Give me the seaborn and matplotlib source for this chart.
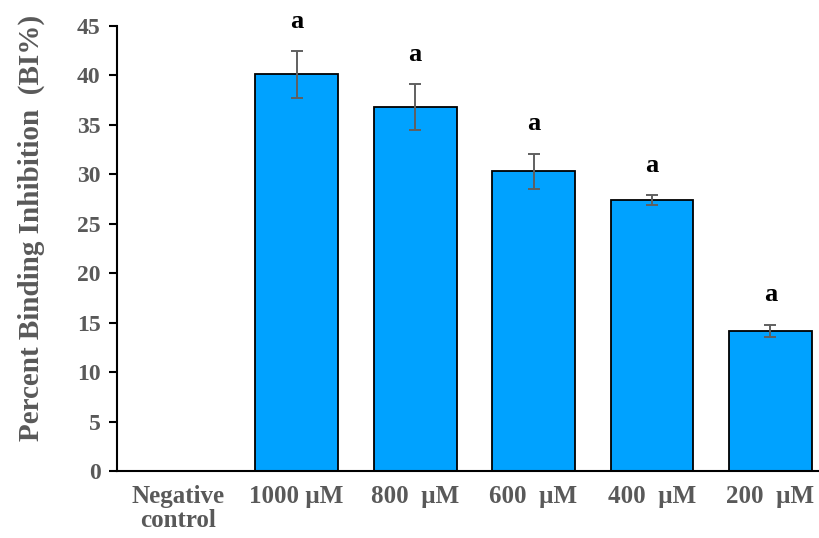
import matplotlib
matplotlib.use("Agg")
import matplotlib.pyplot as plt
import numpy as np
import pandas as pd
import seaborn as sns

categories = ["Negative\ncontrol", "1000 \u00b5M", "800  \u00b5M", "600  \u00b5M", "400  \u00b5M", "200  \u00b5M"]
bi_values = [0.0, 40.1, 36.8, 30.3, 27.4, 14.2]
bi_errors = [0.0, 2.4, 2.3, 1.8, 0.5, 0.6]
letters = ["", "a", "a", "a", "a", "a"]

df = pd.DataFrame({"group": categories, "bi": bi_values})

sns.set_style("white")
plt.rcParams["font.family"] = ["Liberation Serif", "DejaVu Serif"]
plt.rcParams["font.weight"] = "bold"

grey = "#595959"
fig = plt.figure(figsize=(8.19, 5.38), dpi=100)
ax = fig.add_axes([0.143, 0.1245, 0.857, 0.8272])

sns.barplot(data=df, x="group", y="bi", color="#00A2FF", saturation=1,
            edgecolor="black", linewidth=1.3, width=0.7, errorbar=None, ax=ax)

pos = np.arange(len(categories))
has_err = np.array(bi_errors) > 0
ax.errorbar(pos[has_err], np.array(bi_values)[has_err], yerr=np.array(bi_errors)[has_err],
            fmt="none", ecolor="#606060", elinewidth=1.4, capsize=4, capthick=1.4)

# significance letters
for i, (v, e, t) in enumerate(zip(bi_values, bi_errors, letters)):
    if t:
        ax.text(i, v + e + 3.0, t, ha="center", va="center", fontsize=19,
                fontweight="bold", color="black")

ax.set_ylim(0, 45)
ax.set_yticks(np.arange(0, 46, 5))
ax.set_xlim(-0.515, 5.41)

ax.set_xlabel("")
ax.set_ylabel("Percent Binding Inhibition  (BI%)", fontsize=21, fontweight="bold",
              color=grey)
ax.yaxis.set_label_coords(-0.103, 0.546)

for s in ["top", "right"]:
    ax.spines[s].set_visible(False)
for s in ["left", "bottom"]:
    ax.spines[s].set_color("black")
    ax.spines[s].set_linewidth(1.5)

ax.tick_params(axis="y", direction="out", length=6, width=1.5, color="black",
               labelsize=17, labelcolor=grey, left=True, pad=6)
ax.tick_params(axis="x", length=0, labelsize=18, labelcolor=grey, pad=10)
for lab in ax.get_xticklabels() + ax.get_yticklabels():
    lab.set_fontweight("bold")
for lab in ax.get_xticklabels():
    lab.set_linespacing(1.05)

fig.savefig("out.png", dpi=100)
